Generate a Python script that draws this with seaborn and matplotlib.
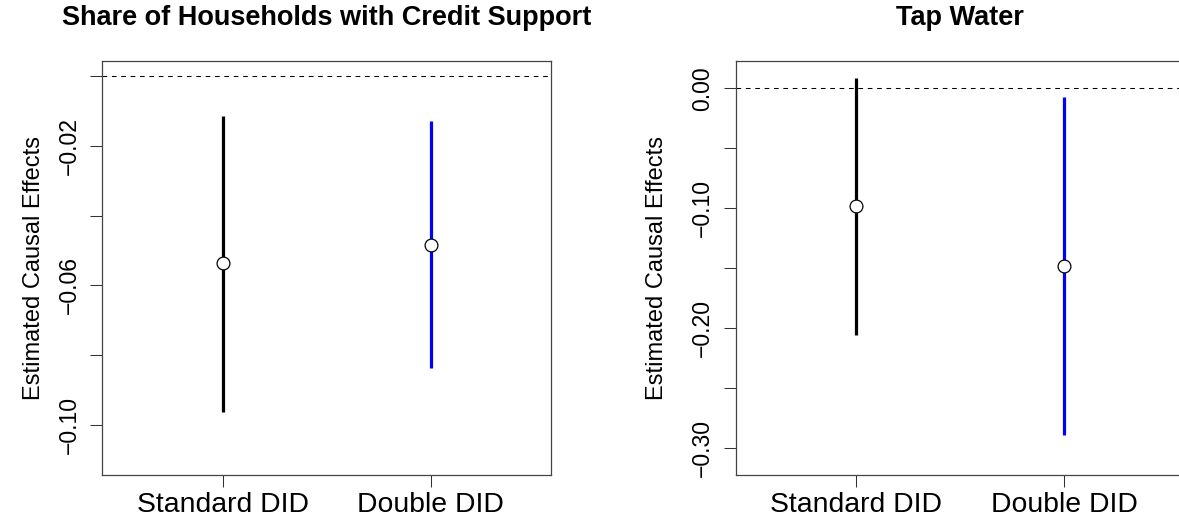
import numpy as np
import pandas as pd
import matplotlib
matplotlib.use("Agg")
import matplotlib.pyplot as plt
import seaborn as sns

## values
methods = ["Standard DID", "Double DID"]
ci_colors = ["black", "blue"]

credit_est = [-0.0537, -0.0483]
credit_lo = [-0.0962, -0.0836]
credit_hi = [-0.0114, -0.0129]

water_est = [-0.0983, -0.1480]
water_lo = [-0.2060, -0.2894]
water_hi = [0.0089, -0.0075]

credit_ticks = [-0.10, -0.08, -0.06, -0.04, -0.02, 0.00]
credit_labels = ["\u22120.10", "", "\u22120.06", "", "\u22120.02", ""]
water_ticks = [-0.30, -0.25, -0.20, -0.15, -0.10, -0.05, 0.00]
water_labels = ["\u22120.30", "", "\u22120.20", "", "\u22120.10", "", "0.00"]

sns.set_style("white")
plt.rcParams['font.family'] = ['Liberation Sans', 'DejaVu Sans']
plt.rcParams['text.color'] = 'black'
plt.rcParams['axes.labelcolor'] = 'black'
plt.rcParams['xtick.color'] = 'black'
plt.rcParams['ytick.color'] = 'black'

W, H = 1179, 524
fig = plt.figure(figsize=(W / 100, H / 100), dpi=100)
ax1 = fig.add_axes([102.3 / W, 49 / H, 449 / W, 414 / H])
ax2 = fig.add_axes([735.7 / W, 49 / H, 449 / W, 414 / H])


def panel(ax, title, est, lo, hi, ylim, ticks, labels, ylab_x):
    df = pd.DataFrame({"pos": [1, 2], "method": methods, "est": est,
                       "lo": lo, "hi": hi})
    ax.axhline(0, color="black", lw=0.75, linestyle=(0, (4.5, 4.5)), zorder=1)
    ax.vlines(df["pos"], df["lo"], df["hi"], colors=ci_colors, lw=2.3, zorder=2)
    sns.scatterplot(data=df, x="pos", y="est", ax=ax, s=85, color="white",
                    edgecolor="black", linewidth=0.9, zorder=3, legend=False)
    ax.set_xlim(0.42, 2.58)
    ax.set_ylim(*ylim)
    ax.set_xticks([1, 2])
    ax.set_xticklabels(methods, fontsize=20.4, color="black")
    ax.set_yticks(ticks)
    ax.set_yticklabels(labels, fontsize=16.6, rotation=90, va="center",
                       color="black")
    ax.tick_params(axis="both", length=8.4, width=0.75, color="#333333",
                   direction="out", left=True, bottom=True)
    ax.tick_params(axis="x", pad=3.5)
    ax.tick_params(axis="y", pad=7)
    ax.set_xlabel("")
    ax.set_ylabel("Estimated Causal Effects", fontsize=17, color="black")
    ax.yaxis.set_label_coords(ylab_x, 0.5)
    ax.set_title(title, fontsize=19.5, fontweight="bold", pad=25.9,
                 color="black")
    for sp in ax.spines.values():
        sp.set_color("#444444")
        sp.set_linewidth(0.9)


panel(ax1, "Share of Households with Credit Support", credit_est, credit_lo,
      credit_hi, (-0.1144, 0.0044), credit_ticks, credit_labels, -0.1276)
panel(ax2, "Tap Water", water_est, water_lo, water_hi, (-0.3228, 0.0228),
      water_ticks, water_labels, -0.1517)

fig.savefig("out.png", dpi=100)
